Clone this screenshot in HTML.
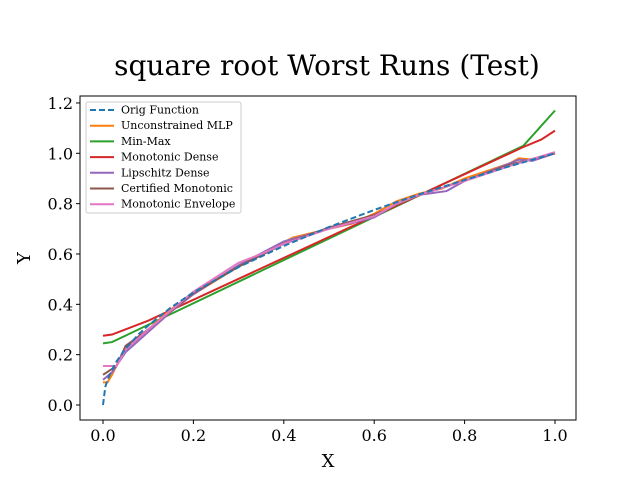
<!DOCTYPE html>
<html><head><meta charset="utf-8"><style>
body{margin:0;background:#fff}
text{font-family:"DejaVu Serif","Liberation Serif",serif}
</style></head><body>
<svg id="c" width="640" height="480" xmlns="http://www.w3.org/2000/svg"></svg>
<script>
const xs=[0,0.005,0.01,0.02,0.03,0.05,0.08,0.1,0.15,0.2,0.3,0.4,0.5,0.6,0.7,0.8,0.9,1.0];
const origY=[0,0.071,0.1,0.141,0.173,0.224,0.283,0.316,0.387,0.447,0.548,0.632,0.707,0.775,0.837,0.894,0.949,1.0];
const mlpX=[0,0.01,0.02,0.05,0.1,0.15,0.2,0.3,0.35,0.42,0.5,0.55,0.6,0.65,0.7,0.75,0.8,0.9,0.92,0.95,1.0];
const mlpY=[0.09,0.09,0.12,0.23,0.3,0.38,0.44,0.55,0.6,0.665,0.7,0.72,0.76,0.81,0.84,0.86,0.9,0.96,0.98,0.975,1.0];
const minmaxX=[0,0.02,0.93,1.0];
const minmaxY=[0.245,0.25,1.03,1.17];
const denseX=[0,0.02,0.1,0.93,0.97,1.0];
const denseY=[0.275,0.28,0.335,1.025,1.055,1.09];
const lipX=[0,0.02,0.05,0.1,0.15,0.2,0.3,0.4,0.5,0.6,0.65,0.7,0.76,0.8,0.9,0.92,0.95,1.0];
const lipY=[0.1,0.13,0.21,0.29,0.37,0.44,0.555,0.65,0.7,0.745,0.8,0.835,0.85,0.89,0.96,0.975,0.97,1.0];
const certX=[0,0.03,0.05,0.1,0.2,0.3,0.4,0.5,0.6,0.7,0.8,0.9,1.0];
const certY=[0.12,0.155,0.235,0.3,0.445,0.55,0.64,0.705,0.755,0.835,0.89,0.955,1.0];
const envX=[0,0.03,0.05,0.1,0.2,0.3,0.35,0.4,0.5,0.6,0.65,0.7,0.8,0.9,1.0];
const envY=[0.155,0.155,0.22,0.3,0.45,0.565,0.6,0.64,0.7,0.75,0.8,0.835,0.89,0.95,1.005];
const xTicks=[0,0.2,0.4,0.6,0.8,1.0];
const yTicks=[0,0.2,0.4,0.6,0.8,1.0,1.2];
const legendLabels=["Orig Function","Unconstrained MLP","Min-Max","Monotonic Dense","Lipschitz Dense","Certified Monotonic","Monotonic Envelope"];
const colors=["#1f77b4","#ff7f0e","#2ca02c","#d62728","#9467bd","#8c564b","#e377c2"];
const L=80,R=576,T=96,B=420;
const sx=v=>103+v*452, sy=v=>405-v*251.7;
const svg=document.getElementById('c');const NS="http://www.w3.org/2000/svg";
function mk(t,a,p){const e=document.createElementNS(NS,t);for(const k in a)e.setAttribute(k,a[k]);(p||svg).appendChild(e);return e;}
let e=mk('text',{x:327,y:75,'font-size':28,'text-anchor':'middle'});e.textContent="square root Worst Runs (Test)";


const series=[[xs,origY],[mlpX,mlpY],[minmaxX,minmaxY],[denseX,denseY],[lipX,lipY],[certX,certY],[envX,envY]];
const order=[2,3,1,4,5,6,0];
order.forEach(i=>{const [X,Y]=series[i];
 const p=mk('polyline',{points:X.map((x,j)=>sx(x)+','+sy(Y[j])).join(' '),fill:'none',stroke:colors[i],'stroke-width':2,'stroke-dasharray':i==0?'6,3':'none'});
 
 
});
e=mk('rect',{x:L,y:T,width:R-L,height:B-T,fill:'none',stroke:'#000','stroke-width':1});


xTicks.forEach(t=>{mk('line',{x1:sx(t),x2:sx(t),y1:B,y2:B+4,stroke:'#000'});
 const tx=mk('text',{x:sx(t),y:B+21,'font-size':16,'text-anchor':'middle'});tx.textContent=t.toFixed(1);
 
 });
yTicks.forEach(t=>{mk('line',{x1:L-4,x2:L,y1:sy(t),y2:sy(t),stroke:'#000'});
 const tx=mk('text',{x:L-7,y:sy(t)+6,'font-size':16,'text-anchor':'end'});tx.textContent=t.toFixed(1);
 
 });
e=mk('text',{x:328,y:467,'font-size':18,'text-anchor':'middle'});e.textContent="X";


e=mk('text',{x:0,y:0,'font-size':18,'text-anchor':'middle',transform:'translate(30,258) rotate(-90)'});e.textContent="Y";


const lg=mk('g',{});


mk('rect',{x:86,y:102,width:155,height:111,rx:2,fill:'#fff','fill-opacity':0.8,stroke:'#ccc'},lg);
legendLabels.forEach((lab,i)=>{const y=110+i*15.7;
 mk('line',{x1:90,x2:114,y1:y,y2:y,stroke:colors[i],'stroke-width':2,'stroke-dasharray':i==0?'6,3':'none'},lg);
 const tx=mk('text',{x:121,y:y+3.5,'font-size':11},lg);tx.textContent=lab;
 
 });
</script></body></html>
